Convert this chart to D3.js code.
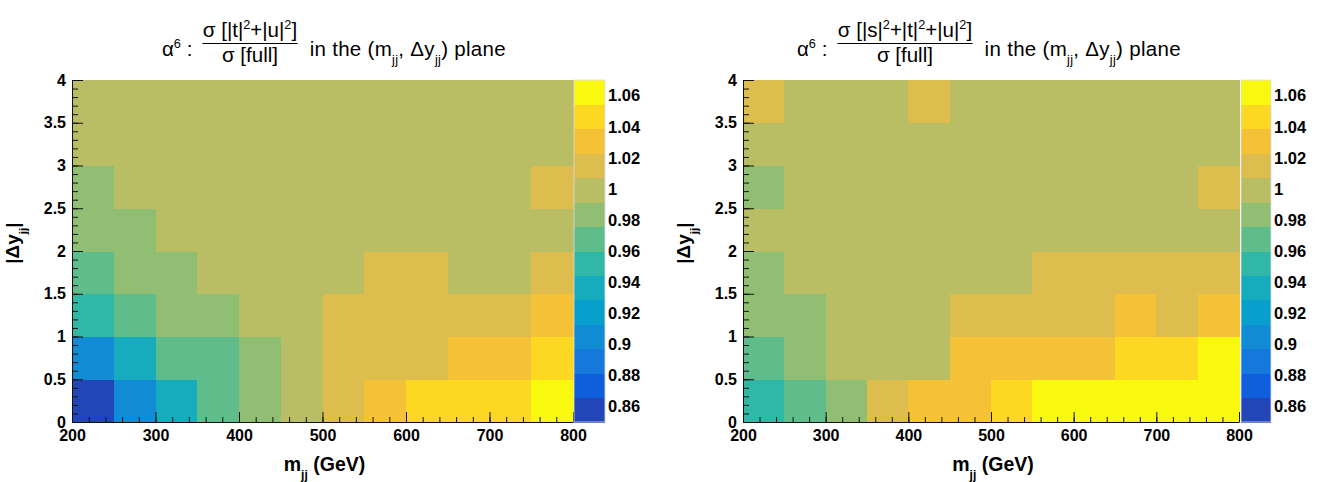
<!DOCTYPE html>
<html>
<head>
<meta charset="utf-8">
<script src="https://cdn.jsdelivr.net/npm/d3@7"></script>
<style>
body { margin: 0; background: #fff; }
text { font-family: "Liberation Sans", Arial, Helvetica, sans-serif; fill: #000; }
</style>
</head>
<body>
<svg width="1322" height="482"></svg>
<script>
// bin edges
var mjjEdges = [200, 250, 300, 350, 400, 450, 500, 550, 600, 650, 700, 750, 800];
var dyEdges = [0, 0.5, 1, 1.5, 2, 2.5, 3, 3.5, 4];

// tick labels
var mjjTicks = [200, 300, 400, 500, 600, 700, 800];
var dyTicks = [0, 0.5, 1, 1.5, 2, 2.5, 3, 3.5, 4];
var zTicks = [0.86, 0.88, 0.9, 0.92, 0.94, 0.96, 0.98, 1, 1.02, 1.04, 1.06];

// sigma[|t|^2+|u|^2] / sigma[full], rows from dy = 0 upwards
var ratioTU = [
    [0.858, 0.905, 0.936, 0.968, 0.984, 0.999, 1.015, 1.031, 1.046, 1.047, 1.046, 1.062],
    [0.905, 0.936, 0.967, 0.969, 0.984, 1.001, 1.014, 1.016, 1.015, 1.031, 1.032, 1.046],
    [0.952, 0.968, 0.983, 0.985, 0.999, 1.002, 1.013, 1.015, 1.016, 1.014, 1.015, 1.031],
    [0.968, 0.984, 0.985, 0.998, 1.000, 1.001, 0.999, 1.015, 1.014, 1.002, 1.003, 1.016],
    [0.984, 0.983, 0.997, 0.998, 0.999, 1.000, 1.001, 1.002, 1.001, 1.002, 1.003, 1.004],
    [0.984, 0.996, 0.998, 0.999, 1.000, 1.000, 1.001, 1.001, 1.002, 1.003, 1.004, 1.013],
    [0.995, 0.997, 0.998, 0.999, 1.000, 1.000, 1.000, 1.001, 1.001, 1.002, 1.002, 1.004],
    [0.997, 0.998, 0.999, 0.999, 1.000, 1.000, 1.000, 1.000, 1.001, 1.001, 1.002, 1.003]
];

// sigma[|s|^2+|t|^2+|u|^2] / sigma[full]
var ratioSTU = [
    [0.952, 0.968, 0.984, 1.015, 1.031, 1.032, 1.046, 1.062, 1.063, 1.064, 1.065, 1.066],
    [0.968, 0.984, 0.999, 1.000, 1.002, 1.030, 1.031, 1.032, 1.033, 1.046, 1.047, 1.062],
    [0.984, 0.985, 0.998, 1.000, 1.003, 1.014, 1.015, 1.016, 1.017, 1.031, 1.018, 1.033],
    [0.984, 0.997, 0.999, 1.000, 1.001, 1.002, 1.004, 1.012, 1.014, 1.015, 1.016, 1.017],
    [0.993, 0.998, 0.999, 1.000, 1.000, 1.001, 1.002, 1.003, 1.003, 1.004, 1.005, 1.006],
    [0.985, 0.997, 0.999, 1.000, 1.000, 1.001, 1.001, 1.002, 1.003, 1.004, 1.005, 1.012],
    [0.994, 0.998, 0.999, 1.000, 1.000, 1.001, 1.001, 1.001, 1.002, 1.003, 1.004, 1.005],
    [1.012, 0.998, 0.999, 1.001, 1.011, 1.000, 1.000, 1.001, 1.002, 1.003, 1.004, 1.005]
];

var zRange = [0.85, 1.07];
var palette = ["#2246b8", "#0f5fdc", "#1479da", "#128bd5", "#079fcb", "#16acbd", "#30b7a5",
    "#5fbd8b", "#90be72", "#b9bd63", "#dcbd4e", "#f5c237", "#fcd822", "#f9f90f"];

var svg = d3.select("svg"),
    plotTop = 80,
    plotBottom = 422;

var color = d3.scaleQuantize().domain(zRange).range(palette);

// text with super/subscripts
function rich(text, parts, size) {
    var shift = 0;
    parts.forEach(function(p) {
        var target = p[1] == "sup" ? -size * 0.4 : p[1] == "sub" ? size * 0.4 : 0;
        text.append("tspan")
            .attr("dy", target - shift)
            .style("font-size", (p[1] == "n" ? size : size * 0.62) + "px")
            .text(p[0]);
        shift = target;
    });
    return text;
}

function drawPanel(opt) {
    var x = d3.scaleLinear().domain([200, 800]).range([opt.x0, opt.x1]),
        y = d3.scaleLinear().domain([0, 4]).range([plotBottom, plotTop]),
        z = d3.scaleLinear().domain(zRange).range([plotBottom, plotTop]);

    var g = svg.append("g");

    // cells
    var cells = [];
    opt.values.forEach(function(row, j) {
        row.forEach(function(v, i) {
            cells.push({i: i, j: j, v: v});
        });
    });
    g.selectAll(".cell")
        .data(cells)
        .enter().append("rect")
        .attr("class", "cell")
        .attr("x", function(d) { return x(mjjEdges[d.i]); })
        .attr("y", function(d) { return y(dyEdges[d.j + 1]); })
        .attr("width", function(d) { return x(mjjEdges[d.i + 1]) - x(mjjEdges[d.i]) + 0.5; })
        .attr("height", function(d) { return y(dyEdges[d.j]) - y(dyEdges[d.j + 1]) + 0.5; })
        .attr("shape-rendering", "crispEdges")
        .attr("fill", function(d) { return color(d.v); });

    // axes, ticks pointing inwards like ROOT
    var xMinor = g.append("g")
        .attr("transform", "translate(0," + plotBottom + ")")
        .call(d3.axisBottom(x).ticks(30).tickSizeInner(-5).tickSizeOuter(0).tickFormat(""));
    xMinor.select(".domain").remove();
    var yMinor = g.append("g")
        .attr("transform", "translate(" + opt.x0 + ",0)")
        .call(d3.axisLeft(y).ticks(40).tickSizeInner(-6).tickSizeOuter(0).tickFormat(""));
    yMinor.select(".domain").remove();

    var xAxis = g.append("g")
        .attr("transform", "translate(0," + plotBottom + ")")
        .call(d3.axisBottom(x).tickValues(mjjTicks).tickSizeInner(-10).tickSizeOuter(0).tickPadding(8));
    var yAxis = g.append("g")
        .attr("transform", "translate(" + opt.x0 + ",0)")
        .call(d3.axisLeft(y).tickValues(dyTicks).tickSizeInner(-11).tickSizeOuter(0).tickPadding(6)
            .tickFormat(function(d) { return String(d); }));

    [xAxis, yAxis, xMinor, yMinor].forEach(function(a) {
        a.selectAll("line").attr("stroke", "#111");
        a.select(".domain").attr("stroke", "#111");
        a.selectAll("text")
            .style("font-size", "16px")
            .style("font-weight", "bold")
            .attr("fill", "#000");
    });

    // axis titles
    rich(g.append("text")
        .attr("x", (opt.x0 + opt.x1) / 2 + 2)
        .attr("y", 471)
        .attr("text-anchor", "middle")
        .style("font-weight", "bold"),
        [["m", "n"], ["jj", "sub"], [" (GeV)", "n"]], 19.5);

    rich(g.append("text")
        .attr("transform", "translate(" + (opt.x0 - 53) + "," + (y(2) - 8) + ") rotate(-90)")
        .attr("text-anchor", "middle")
        .style("font-weight", "bold"),
        [["|\u0394y", "n"], ["jj", "sub"], ["|", "n"]], 19);

    // colour bar
    var bands = palette.map(function(c) { return color.invertExtent(c); });
    g.selectAll(".band")
        .data(bands)
        .enter().append("rect")
        .attr("class", "band")
        .attr("x", opt.cbX)
        .attr("width", opt.cbW)
        .attr("y", function(d) { return z(d[1]); })
        .attr("height", function(d) { return z(d[0]) - z(d[1]) + 0.5; })
        .attr("shape-rendering", "crispEdges")
        .attr("fill", function(d) { return color((d[0] + d[1]) / 2); });
    g.append("rect")
        .attr("x", opt.cbX).attr("y", plotTop)
        .attr("width", opt.cbW).attr("height", plotBottom - plotTop)
        .attr("fill", "none").attr("stroke", "#dde").attr("stroke-width", 0.8);

    g.selectAll(".zlab")
        .data(zTicks)
        .enter().append("text")
        .attr("class", "zlab")
        .attr("x", opt.cbX + opt.cbW + 3)
        .attr("y", function(d) { return z(d); })
        .attr("dy", "0.36em")
        .style("font-size", "16.5px")
        .style("font-weight", "bold")
        .text(function(d) { return String(d); });

    // title: alpha^6 : fraction in the (m_jj, dy_jj) plane
    var base = 56, size = 20.5;
    var t1 = rich(g.append("text").attr("x", opt.titleX).attr("y", base),
        [["\u03b1", "n"], ["6", "sup"], [" :", "n"]], size);
    var fx = opt.titleX + t1.node().getComputedTextLength() + 10;

    var num = rich(g.append("text").attr("y", 37).attr("text-anchor", "middle"), opt.numerator, size);
    var den = rich(g.append("text").attr("y", 62).attr("text-anchor", "middle"),
        [["\u03c3 [full]", "n"]], size);
    var fw = Math.max(num.node().getComputedTextLength(), den.node().getComputedTextLength()) + 1;
    num.attr("x", fx + fw / 2);
    den.attr("x", fx + fw / 2);
    g.append("line")
        .attr("x1", fx).attr("x2", fx + fw)
        .attr("y1", 43.5).attr("y2", 43.5)
        .attr("stroke", "#000").attr("stroke-width", 1.2);

    rich(g.append("text").attr("x", fx + fw + 12).attr("y", base).style("letter-spacing", "0.3px"),
        [["in the (m", "n"], ["jj", "sub"], [", \u0394y", "n"], ["jj", "sub"], [") plane", "n"]], size);
}

drawPanel({
    x0: 72, x1: 573, cbX: 574, cbW: 31, titleX: 162,
    values: ratioTU,
    numerator: [["\u03c3 [|t|", "n"], ["2", "sup"], ["+|u|", "n"], ["2", "sup"], ["]", "n"]]
});

drawPanel({
    x0: 743, x1: 1239, cbX: 1241, cbW: 30, titleX: 797,
    values: ratioSTU,
    numerator: [["\u03c3 [|s|", "n"], ["2", "sup"], ["+|t|", "n"], ["2", "sup"], ["+|u|", "n"], ["2", "sup"], ["]", "n"]]
});
</script>
</body>
</html>
